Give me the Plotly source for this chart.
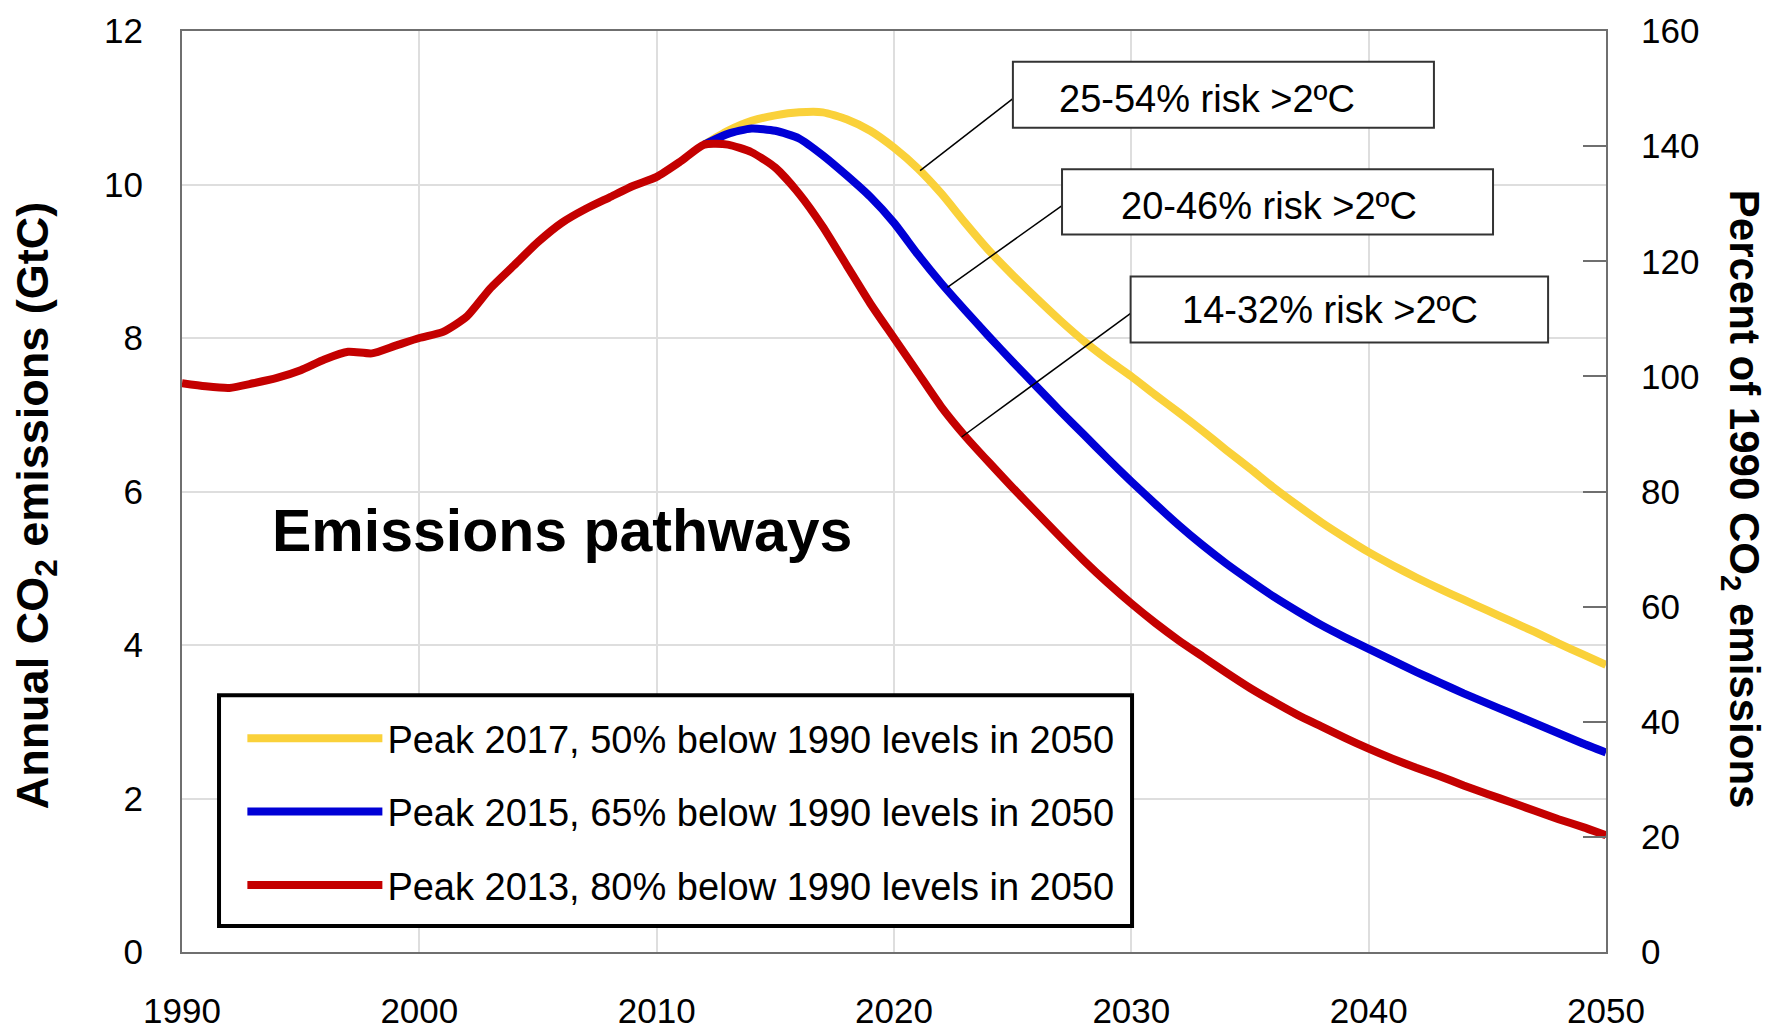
import plotly.graph_objects as go

FONT = "Liberation Sans, Arial, Helvetica, sans-serif"

# ---- data ----
years_all = list(range(1990, 2051))
peak2013 = [7.41, 7.37, 7.35, 7.41, 7.48, 7.58, 7.72, 7.82, 7.80, 7.90,
            8.00, 8.08, 8.28, 8.65, 8.95, 9.25, 9.50, 9.68, 9.83, 9.98,
            10.10, 10.30, 10.52, 10.52, 10.42, 10.22, 9.88, 9.45, 8.95, 8.45,
            8.00, 7.55, 7.10, 6.72, 6.38, 6.05, 5.73, 5.41, 5.10, 4.81,
            4.54, 4.29, 4.06, 3.85, 3.64, 3.44, 3.26, 3.09, 2.94, 2.79,
            2.65, 2.52, 2.40, 2.29, 2.17, 2.06, 1.95, 1.84, 1.73, 1.63,
            1.52]

years_fwd = list(range(2012, 2051))
peak2015 = [10.52, 10.66, 10.73, 10.70, 10.60, 10.38, 10.12, 9.84, 9.50, 9.09,
            8.71, 8.36, 8.02, 7.69, 7.37, 7.05, 6.74, 6.43, 6.13, 5.84,
            5.56, 5.30, 5.06, 4.84, 4.63, 4.44, 4.26, 4.10, 3.95, 3.80,
            3.65, 3.51, 3.37, 3.24, 3.11, 2.98, 2.85, 2.72, 2.60]
peak2017 = [10.52, 10.70, 10.83, 10.90, 10.94, 10.94, 10.85, 10.70, 10.48, 10.21,
            9.88, 9.50, 9.14, 8.82, 8.52, 8.23, 7.96, 7.72, 7.50, 7.26,
            7.03, 6.79, 6.54, 6.30, 6.05, 5.82, 5.60, 5.40, 5.21, 5.04,
            4.88, 4.73, 4.59, 4.45, 4.31, 4.17, 4.02, 3.88, 3.74]

series_names = ["Peak 2017, 50% below 1990 levels in 2050",
                "Peak 2015, 65% below 1990 levels in 2050",
                "Peak 2013, 80% below 1990 levels in 2050"]

risk_labels = ["25-54% risk >2ºC", "20-46% risk >2ºC", "14-32% risk >2ºC"]
# point on each curve that the leader line touches (year, GtC)
risk_points = [(2021.1, 10.18), (2022.25, 8.66), (2022.85, 6.71)]

left_ticks = [0, 2, 4, 6, 8, 10, 12]
right_ticks = [0, 20, 40, 60, 80, 100, 120, 140, 160]
year_ticks = [1990, 2000, 2010, 2020, 2030, 2040, 2050]

YELLOW = "#FAD13A"
BLUE = "#0000D6"
RED = "#C40000"
GRID = "#dedede"
FRAME = "#6f6f6f"

fig = go.Figure()

for name, xs, ys, col in [(series_names[0], years_fwd, peak2017, YELLOW),
                          (series_names[1], years_fwd, peak2015, BLUE),
                          (series_names[2], years_all, peak2013, RED)]:
    fig.add_trace(go.Scatter(
        x=xs, y=ys, mode="lines", name=name, legendgroup=name,
        line=dict(color=col, width=8, shape="spline", smoothing=0.6),
        hovertemplate="%{x}: %{y:.2f} GtC<extra></extra>",
    ))

# invisible trace so the right-hand percent axis is drawn
fig.add_trace(go.Scatter(x=[], y=[], yaxis="y2", showlegend=False,
                         hoverinfo="skip"))

# legend frame
fig.add_shape(type="rect", xref="x", yref="y",
              x0=1991.56, x1=2030.03, y0=0.338, y1=3.345,
              line=dict(color="black", width=4), fillcolor="white",
              layer="between")

# risk boxes (frame, leader line, text)
box_x = [(2025.01, 2042.75), (2027.08, 2045.24), (2029.97, 2047.56)]
box_y = [(10.74, 11.60), (9.35, 10.20), (7.94, 8.80)]
text_pos = [(2033.19, 11.12), (2035.80, 9.72), (2038.37, 8.36)]
for label, (px, py), (x0, x1), (y0, y1), (tx, ty) in zip(
        risk_labels, risk_points, box_x, box_y, text_pos):
    fig.add_shape(type="line", xref="x", yref="y",
                  x0=px, y0=py, x1=x0, y1=(y0 + y1) / 2 - 0.05,
                  line=dict(color="black", width=1.5))
    fig.add_shape(type="rect", xref="x", yref="y", x0=x0, x1=x1, y0=y0, y1=y1,
                  line=dict(color="#333333", width=2), fillcolor="white",
                  layer="above")
    fig.add_annotation(x=tx, y=ty, xref="x", yref="y", text=label,
                       showarrow=False, xanchor="center", yanchor="middle",
                       font=dict(family=FONT, size=38, color="black"))

fig.add_annotation(x=2005.99, y=5.49, xref="x", yref="y",
                   text="<b>Emissions pathways</b>", showarrow=False,
                   xanchor="center", yanchor="middle",
                   font=dict(family=FONT, size=59, color="black"))

fig.add_annotation(x=-0.1032, y=0.485, xref="paper", yref="paper",
                   text="<b>Annual CO<sub>2</sub> emissions (GtC)</b>",
                   textangle=-90, showarrow=False,
                   xanchor="center", yanchor="middle",
                   font=dict(family=FONT, size=45, color="black"))
fig.add_annotation(x=1.0948, y=0.491, xref="paper", yref="paper",
                   text="<b>Percent of 1990 CO<sub>2</sub> emissions</b>",
                   textangle=90, showarrow=False,
                   xanchor="center", yanchor="middle",
                   font=dict(family=FONT, size=42, color="black"))

axis_font = dict(family=FONT, size=35, color="black")
# the page body adds an 8px offset, so the figure is 8px smaller than the window
fig.update_layout(
    width=1767, height=1021,
    margin=dict(l=174, r=169, t=23, b=77, autoexpand=False),
    paper_bgcolor="white", plot_bgcolor="white",
    font=dict(family=FONT, color="black"),
    showlegend=True,
    legend=dict(x=0.0424, y=0.266, xanchor="left", yanchor="top",
                bgcolor="rgba(0,0,0,0)", borderwidth=0,
                font=dict(family=FONT, size=38, color="black"),
                itemwidth=135, tracegroupgap=21),
    xaxis=dict(range=[1990, 2050], tickvals=year_ticks, automargin=False,
               showgrid=True, gridcolor=GRID, gridwidth=1.5,
               showline=True, linecolor=FRAME, linewidth=2, mirror=True,
               ticks="", ticklabelstandoff=27, tickfont=axis_font,
               zeroline=False),
    yaxis=dict(range=[0, 12], tickvals=left_ticks, automargin=False,
               showgrid=True, gridcolor=GRID, gridwidth=1.5,
               showline=True, linecolor=FRAME, linewidth=2, mirror=True,
               ticks="", ticklabelstandoff=30, tickfont=axis_font,
               zeroline=False),
    yaxis2=dict(range=[0, 160], tickvals=right_ticks, overlaying="y",
                side="right", showgrid=False, zeroline=False, automargin=False,
                showline=True, linecolor=FRAME, linewidth=2,
                ticks="inside", ticklen=23, tickwidth=2, tickcolor=FRAME,
                ticklabelstandoff=26, tickfont=axis_font),
)

fig.write_html("out.html")
